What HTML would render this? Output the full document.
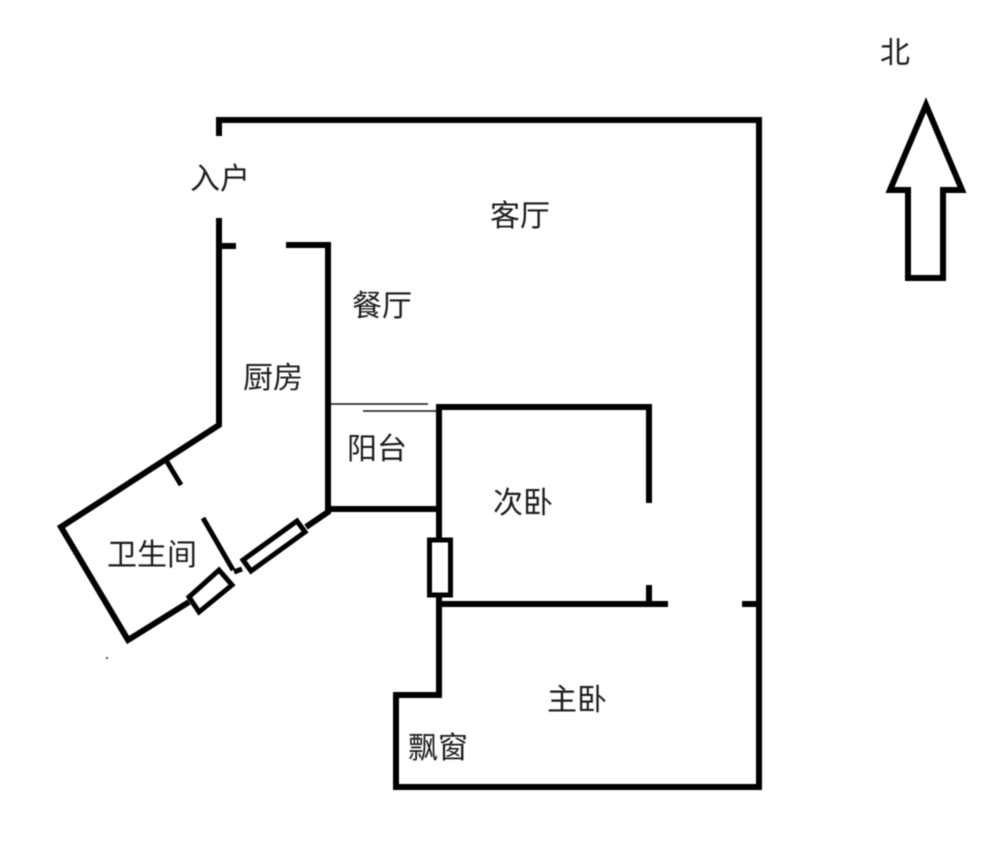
<!DOCTYPE html>
<html lang="zh">
<head>
<meta charset="utf-8">
<title>户型图</title>
<style>
html,body{margin:0;padding:0;background:#fff;width:1000px;height:855px;overflow:hidden}
svg{display:block}
text{font-family:"Liberation Sans","WenQuanYi Zen Hei","Noto Sans CJK SC",sans-serif;font-size:30px;fill:#1c1c1c}
.w{fill:none;stroke:#000;stroke-width:6;stroke-linecap:butt;stroke-linejoin:miter}
.n{fill:none;stroke:#000;stroke-width:5}
.t{fill:none;stroke:#111;stroke-width:1.5}
</style>
</head>
<body>
<svg width="1000" height="855" viewBox="0 0 1000 855" xmlns="http://www.w3.org/2000/svg">
<defs><filter id="b" x="-5%" y="-5%" width="110%" height="110%"><feGaussianBlur stdDeviation="0.4"/></filter></defs>
<rect width="1000" height="855" fill="#fff"/>
<g filter="url(#b)">
<!-- outer wall -->
<path class="w" d="M219 136V120H759V787H396V695H439V597"/>
<!-- entry and kitchen -->
<path class="w" d="M219 218V425L61 527L128 640L189 602"/>
<path class="w" d="M219 246H236"/>
<path class="w" d="M286 245H328V512L306 527"/>
<!-- balcony -->
<path class="w" d="M328 509H439"/>
<path class="w" d="M439 538V407H649V503"/>
<path class="t" d="M330 404H428"/>
<path class="t" d="M363 411H439"/>
<!-- second bedroom -->
<path class="w" d="M439 604H668"/>
<path class="w" d="M649 585V604"/>
<path class="w" d="M742 604H759"/>
<rect class="n" x="429.500" y="540" width="21" height="55" fill="#fff"/>
<!-- windows -->
<polygon class="n" points="189,597 219,570 232,585 199,612" fill="#fff"/>
<polygon class="n" points="243,560 297,521 305,532 251,571" fill="#fff"/>
<path class="n" d="M234 572L242 569"/>
<!-- bathroom door stubs -->
<path class="n" d="M166 460L181 485"/>
<path class="n" d="M203 518L233 570"/>
<!-- north arrow -->
<path class="w" d="M926 105L890 190H908V278H943V190H962Z"/>
<rect x="106" y="657" width="2" height="2" fill="#555"/>
<!-- labels -->
<text x="190" y="189">入户</text>
<text x="490" y="226">客厅</text>
<text x="352" y="316">餐厅</text>
<text x="243" y="388">厨房</text>
<text x="347" y="459">阳台</text>
<text x="493" y="513">次卧</text>
<text x="107" y="565">卫生间</text>
<text x="547" y="710">主卧</text>
<text x="408" y="758">飘窗</text>
<text x="880" y="63">北</text>
</g>
</svg>
</body>
</html>
